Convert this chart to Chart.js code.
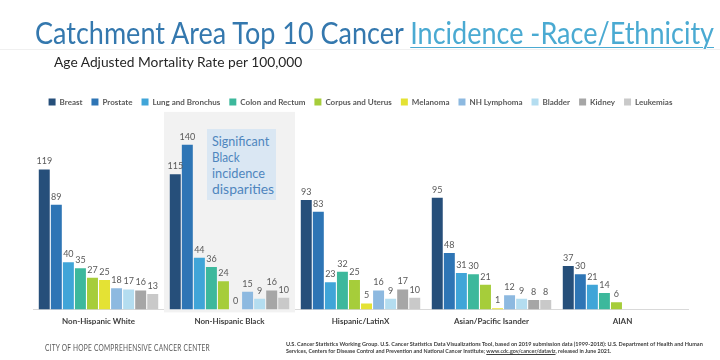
<!DOCTYPE html>
<html>
<head>
<meta charset="utf-8">
<script src="https://cdn.jsdelivr.net/npm/chart.js@4.4.0/dist/chart.umd.min.js"></script>
<style>
  html, body { margin:0; padding:0; background:#fff; }
  body { width:720px; height:360px; position:relative; overflow:hidden; font-family: Lato, "Open Sans", sans-serif; }
  #wrap { position:absolute; left:0; top:0; width:720px; height:360px; }
  .t { position:absolute; white-space:nowrap; transform-origin:left center; }
  #title { left:35px; top:14px; font-size:30px; font-weight:400; color:#3478AE; line-height:36px; }
  #title u { color:#4AAAD2; text-decoration-thickness:1px; text-underline-offset:3px; }
  #rule { position:absolute; left:0; top:49px; width:720px; height:1px; background:#F0F0F0; }
  #sub { left:54px; top:54px; font-size:13px; color:#262626; line-height:16px; }
  #box { position:absolute; left:207px; top:129px; width:69px; height:71px; background:#DAE7F3; }
  #box .t { left:5px; font-size:13px; color:#4F86BE; line-height:16px; }
  #foot1 { left:45px; top:343px; font-size:8.5px; color:#595959; line-height:10px; letter-spacing:0.3px; }
  .src { left:286px; font-size:6px; font-weight:700; color:#404040; line-height:7px; }
</style>
</head>
<body>
<div id="wrap"><canvas id="c" width="720" height="360"></canvas></div>
<div id="title" class="t" data-w="679">Catchment Area Top 10 Cancer <u>Incidence -Race/Ethnicity</u></div>
<div id="rule"></div>
<div id="sub" class="t" data-w="248">Age Adjusted Mortality Rate per 100,000</div>
<div id="box">
  <div class="t" style="top:4px" data-w="57">Significant</div>
  <div class="t" style="top:20px" data-w="28">Black</div>
  <div class="t" style="top:36px" data-w="53">incidence</div>
  <div class="t" style="top:52px" data-w="62">disparities</div>
</div>
<div id="foot1" class="t" data-w="165">CITY OF HOPE COMPREHENSIVE CANCER CENTER</div>
<div id="src1" class="t src" style="top:340px" data-w="417">U.S. Cancer Statistics Working Group. U.S. Cancer Statistics Data Visualizations Tool, based on 2019 submission data (1999-2018): U.S. Department of Health and Human</div>
<div id="src2" class="t src" style="top:347px" data-w="325">Services, Centers for Disease Control and Prevention and National Cancer Institute; <u>www.cdc.gov/cancer/dataviz</u>, released in June 2021.</div>
<script>
const categories = ["Non-Hispanic White", "Non-Hispanic Black", "Hispanic/LatinX", "Asian/Pacific Isander", "AIAN"];
const breast     = [119, 115, 93, 95, 37];
const prostate   = [89, 140, 83, 48, 30];
const lung       = [40, 44, 23, 31, 21];
const colon      = [35, 36, 32, 30, 14];
const corpus     = [27, 24, 25, 21, 6];
const melanoma   = [25, 0, 5, 1, null];
const lymphoma   = [18, 15, 16, 12, null];
const bladder    = [17, 9, 9, 9, null];
const kidney     = [16, 16, 17, 8, null];
const leukemias  = [13, 10, 10, 8, null];
const seriesNames = ["Breast", "Prostate", "Lung and Bronchus", "Colon and Rectum", "Corpus and Uterus", "Melanoma", "NH Lymphoma", "Bladder", "Kidney", "Leukemias"];
const seriesColors = ["#264F7A", "#2E75B5", "#40A5D8", "#3DB89C", "#A6CD3A", "#E4E234", "#8DB9E0", "#B4DDF0", "#A6A6A6", "#C9C9C9"];
const seriesValues = [breast, prostate, lung, colon, corpus, melanoma, lymphoma, bladder, kidney, leukemias];
const highlightCategory = 1;

function fitTexts() {
  document.querySelectorAll('.t[data-w]').forEach(el => {
    el.style.transform = 'none';
    const w = parseFloat(el.dataset.w);
    const a = el.scrollWidth;
    el.style.transform = 'scaleX(' + (w / a) + ')';
  });
}

const shadePlugin = {
  id: 'shade',
  beforeDatasetsDraw(chart) {
    const x = chart.scales.x, y = chart.scales.y, ctx = chart.ctx;
    const cx = x.getPixelForValue(highlightCategory);
    const half = (x.getPixelForValue(1) - x.getPixelForValue(0)) / 2;
    const top = y.getPixelForValue(168);
    ctx.save();
    ctx.fillStyle = '#F2F2F2';
    ctx.fillRect(cx - half, top, half * 2, chart.chartArea.bottom + 3 - top);
    ctx.restore();
  }
};
const labelPlugin = {
  id: 'vlabels',
  afterDatasetsDraw(chart) {
    const ctx = chart.ctx;
    ctx.save();
    ctx.font = '9px Lato, "Open Sans", sans-serif';
    ctx.fillStyle = '#595959';
    ctx.textAlign = 'center';
    ctx.textBaseline = 'middle';
    chart.data.datasets.forEach((ds, i) => {
      const meta = chart.getDatasetMeta(i);
      meta.data.forEach((bar, j) => {
        const v = ds.data[j];
        if (v === null || v === undefined) return;
        ctx.fillText(String(v), bar.x, bar.y - 8);
      });
    });
    ctx.restore();
  }
};

function build() {
  fitTexts();
  new Chart(document.getElementById('c'), {
    type: 'bar',
    data: {
      labels: categories,
      datasets: seriesNames.map((n, i) => ({
        label: n,
        data: seriesValues[i],
        backgroundColor: seriesColors[i],
        borderWidth: 0,
        categoryPercentage: 0.92,
        barPercentage: 0.91
      }))
    },
    options: {
      responsive: false,
      animation: false,
      layout: { padding: { top: 89, left: 33, right: 32, bottom: 27 } },
      plugins: {
        legend: {
          position: 'top',
          labels: {
            boxWidth: 7, boxHeight: 7, padding: 9,
            color: '#595959',
            font: { family: 'Lato, "Open Sans", sans-serif', size: 8, weight: 'bold' }
          }
        },
        tooltip: { enabled: false }
      },
      scales: {
        x: {
          grid: { display: false, drawTicks: false },
          border: { display: true, color: '#D9D9D9', width: 1 },
          ticks: { color: '#404040', padding: 7, font: { family: 'Lato, "Open Sans", sans-serif', size: 8, weight: 'bold' } }
        },
        y: { display: false, min: 0, max: 164.5 }
      }
    },
    plugins: [shadePlugin, labelPlugin]
  });
}

Promise.all([
  document.fonts.load('bold 8px Lato'),
  document.fonts.load('9px Lato'),
  document.fonts.load('30px Lato'),
  document.fonts.load('bold 6px Lato')
]).then(build, build);
</script>
</body>
</html>
